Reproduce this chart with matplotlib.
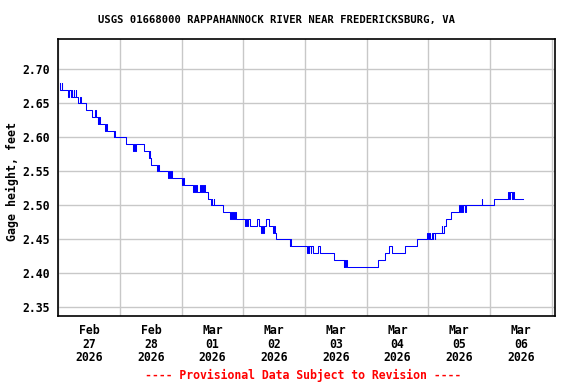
import numpy as np
import pandas as pd
import matplotlib
matplotlib.use("Agg")
import matplotlib.pyplot as plt
import matplotlib.dates as mdates

# gage height steps: hours since 2026-02-27 00:00 (EST) and value in feet
hours = [0.5, 0.75, 1.25, 1.5, 3.75, 4.25, 4.75, 5.25, 5.5, 6.0, 6.25, 6.75, 7.0,
         7.75, 8.5, 8.75, 10.75, 13.0, 14.25, 14.5, 15.25, 15.5, 15.75, 16.0, 16.25,
         18.25, 18.5, 18.75, 21.5, 21.75, 22.0, 26.25, 29.0, 29.5, 30.0, 30.25,
         33.25, 35.25, 35.5, 35.75, 36.25, 38.5, 38.75, 39.0, 42.75, 43.25, 43.5,
         44.0, 44.25, 48.0, 48.5, 49.0, 52.25, 52.75, 53.0, 53.5, 54.0, 55.0, 55.5,
         55.75, 56.25, 56.75, 57.0, 58.25, 59.25, 59.75, 60.0, 60.5, 60.75, 64.25,
         66.75, 67.25, 67.5, 68.0, 68.25, 68.75, 69.25, 72.75, 73.0, 73.5, 74.0,
         74.5, 77.25, 78.25, 78.75, 79.25, 79.5, 80.0, 81.0, 82.0, 83.5, 84.0,
         84.25, 84.75, 90.0, 90.25, 90.5, 96.75, 97.0, 97.5, 97.75, 98.25, 98.5,
         99.0, 101.25, 102.0, 107.25, 111.0, 111.25, 111.75, 112.0, 112.25,
         124.25, 127.0, 128.75, 130.0, 135.0, 139.5, 143.5, 144.0, 144.25, 144.75,
         145.25, 145.75, 146.0, 146.5, 146.75, 149.25, 149.5, 150.0, 150.75,
         153.0, 156.0, 156.5, 156.75, 157.25, 157.5, 158.25, 158.5, 164.75, 165.0,
         169.5, 175.0, 175.5, 175.75, 176.5, 177.0, 177.5, 181.0]
gage = [2.68, 2.67, 2.68, 2.67, 2.66, 2.67, 2.66, 2.67, 2.66, 2.67, 2.66, 2.67, 2.66,
        2.65, 2.66, 2.65, 2.64, 2.63, 2.64, 2.63, 2.62, 2.63, 2.62, 2.63, 2.62,
        2.61, 2.62, 2.61, 2.60, 2.61, 2.60, 2.59, 2.58, 2.59, 2.58, 2.59,
        2.58, 2.57, 2.58, 2.57, 2.56, 2.55, 2.56, 2.55, 2.54, 2.55, 2.54,
        2.55, 2.54, 2.53, 2.54, 2.53, 2.52, 2.53, 2.52, 2.53, 2.52, 2.53, 2.52,
        2.53, 2.52, 2.53, 2.52, 2.51, 2.50, 2.51, 2.50, 2.51, 2.50, 2.49,
        2.48, 2.49, 2.48, 2.49, 2.48, 2.49, 2.48, 2.47, 2.48, 2.47, 2.48,
        2.47, 2.48, 2.47, 2.46, 2.47, 2.46, 2.47, 2.48, 2.47, 2.46, 2.47,
        2.46, 2.45, 2.44, 2.45, 2.44, 2.43, 2.44, 2.43, 2.44, 2.43, 2.44,
        2.43, 2.44, 2.43, 2.42, 2.41, 2.42, 2.41, 2.42, 2.41,
        2.42, 2.43, 2.44, 2.43, 2.44, 2.45, 2.46, 2.45, 2.46, 2.45,
        2.46, 2.45, 2.46, 2.45, 2.46, 2.47, 2.46, 2.47, 2.48,
        2.49, 2.50, 2.49, 2.50, 2.49, 2.50, 2.49, 2.50, 2.51, 2.50,
        2.51, 2.52, 2.51, 2.52, 2.51, 2.52, 2.51, 2.51]

start = pd.Timestamp("2026-02-27 00:00")
times = start + pd.to_timedelta(hours, unit="h")
x_min = start - pd.Timedelta(hours=0.13)
x_max = start + pd.Timedelta(hours=193.3)
y_ticks = [2.35, 2.40, 2.45, 2.50, 2.55, 2.60, 2.65, 2.70]

plt.rcParams['font.family'] = ['DejaVu Sans Mono']
plt.rcParams['font.weight'] = 'bold'

fig = plt.figure(figsize=(5.76, 3.84), dpi=100)
ax = fig.add_axes([58/576, 1-316/384, (555-58)/576, (316-39)/384])

ax.plot(times, gage, drawstyle='steps-post', color='#0000ff', lw=0.75)

ax.set_xlim(x_min, x_max)
ax.set_ylim(2.3372, 2.7446)
ax.set_yticks(y_ticks)
ax.yaxis.set_major_formatter(plt.FormatStrFormatter('%.2f'))

ax.xaxis.set_major_locator(mdates.HourLocator(byhour=12))
ax.xaxis.set_major_formatter(mdates.DateFormatter('%b\n%d\n%Y'))
ax.xaxis.set_minor_locator(mdates.DayLocator())
ax.grid(which='minor', axis='x', color='#c8c8c8', lw=1.0)
ax.grid(which='major', axis='y', color='#c8c8c8', lw=1.0)
ax.set_axisbelow(True)

ax.tick_params(axis='both', which='both', length=0, labelsize=8.3)
ax.tick_params(axis='y', pad=5.5)
ax.tick_params(axis='x', pad=6)
for s in ax.spines.values():
    s.set_linewidth(1.2)

fig.text(277/576, 1-20/384, 'USGS 01668000 RAPPAHANNOCK RIVER NEAR FREDERICKSBURG, VA',
         ha='center', va='center', fontsize=7.6, fontweight='bold')
fig.text(12/576, 1-182/384, 'Gage height, feet', rotation=90,
         ha='center', va='center', fontsize=8.4, fontweight='bold')
fig.text(303.5/576, 1-375/384, '---- Provisional Data Subject to Revision ----',
         ha='center', va='center', fontsize=8.3, fontweight='bold', color='red')

fig.canvas.draw()
for lbl in ax.get_xticklabels():
    lbl.set_linespacing(1.05)

fig.savefig('out.png', dpi=100)
